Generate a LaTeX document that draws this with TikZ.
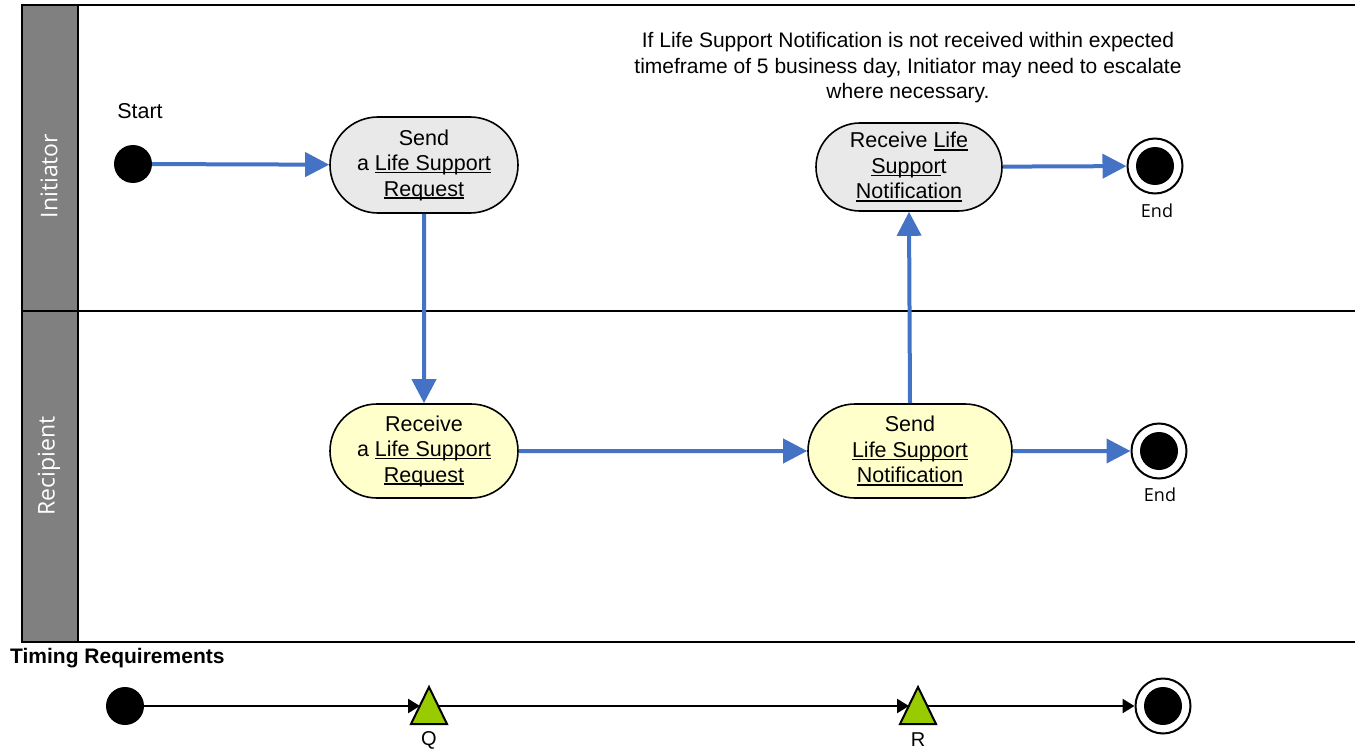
\documentclass[tikz,border=0pt]{standalone}
\usepackage{fontspec}
\setmainfont{Liberation Sans}
\newfontfamily\lanefont{Open Sans}
\usetikzlibrary{arrows.meta,shapes.misc,calc}
\definecolor{flowblue}{RGB}{68,114,196}
\definecolor{lanegray}{RGB}{128,128,128}
\definecolor{actgray}{RGB}{233,233,233}
\definecolor{actyellow}{RGB}{255,255,204}
\definecolor{mileg}{RGB}{153,204,0}
% underline set just below the baseline, crossing descenders
\newcommand\uln[1]{\leavevmode\setbox0\hbox{#1}\rlap{\rule[-2.6pt]{\wd0}{1.3pt}}\box0}
\begin{document}
\begin{tikzpicture}[x=1pt,y=-1pt,
  lanehead/.style={draw=black,line width=2pt,fill=lanegray},
  lanelabel/.style={text=white,font=\lanefont\fontsize{23}{27}\selectfont,rotate=90},
  activity/.style={draw=black,line width=1.6pt,rounded rectangle,align=center,
    inner sep=0pt,font=\fontsize{21.5}{25.5}\selectfont},
  flow/.style={draw=flowblue,line width=4pt,-{Triangle[length=24pt,width=24pt]}},
  startdot/.style={circle,fill=black,minimum size=38pt,inner sep=0pt},
  enddot/.style={circle,draw=black,line width=2pt,fill=white,minimum size=55pt,inner sep=0pt,
    path picture={\fill[black] (path picture bounding box.center) circle (19pt);}},
  endlabel/.style={font=\lanefont\fontsize{18}{21}\selectfont},
  timeline/.style={draw=black,line width=2.5pt,-{Triangle[length=12pt,width=14pt]}},
  milestone/.style={draw=black,line width=2pt,fill=mileg,line join=miter}
]
\useasboundingbox (0,0) rectangle (1355,749);

% swimlane frame
\draw[line width=2pt] (22,5) -- (1360,5);
\draw[line width=2pt] (22,311) -- (1360,311);
\draw[line width=2pt] (22,642) -- (1360,642);
\draw[lanehead] (22,5) rectangle (78,311);
\draw[lanehead] (22,311) rectangle (78,642);
\node[lanelabel] (lane1) at (49,176) {Initiator};
\node[lanelabel] (lane2) at (49,466) {Recipient};

% initiator lane
\node[startdot] (start) at (133,164) {};
\node[font=\fontsize{21.5}{25}\selectfont] (startlbl) at (140,111) {Start};
\node[activity,fill=actgray,minimum width=188pt,minimum height=96pt] (sendreq) at (424,165)
  {Send\\a \uln{Life Support}\\\uln{Request}};
\node[activity,fill=actgray,minimum width=186pt,minimum height=88pt] (recvnot) at (909,167)
  {Receive \uln{Life}\\\uln{Suppor}t\\\uln{Notification}};
\node[enddot] (end1) at (1155,166) {};
\node[endlabel] (end1lbl) at (1157,211) {End};
\node[align=center,font=\fontsize{21}{25.5}\selectfont] (note) at (908,68)
  {If Life Support Notification is not received within expected\\
   timeframe of 5 business day, Initiator may need to escalate\\
   where necessary.};

% recipient lane
\node[activity,fill=actyellow,minimum width=188pt,minimum height=94pt] (recvreq) at (424,451)
  {Receive\\a \uln{Life Support}\\\uln{Request}};
\node[activity,fill=actyellow,minimum width=204pt,minimum height=94pt] (sendnot) at (910,451)
  {Send\\\uln{Life Support}\\\uln{Notification}};
\node[enddot] (end2) at (1159,451) {};
\node[endlabel] (end2lbl) at (1160,495) {End};

% control flow
\draw[flow] (start) -- (sendreq);
\draw[flow] (sendreq) -- (recvreq);
\draw[flow] (recvreq) -- (sendnot);
\draw[flow] (sendnot.north) -- (recvnot.south);
\draw[flow] (recvnot) -- (end1);
\draw[flow] (sendnot) -- (end2);

% timing requirements
\node[font=\bfseries\fontsize{21}{24}\selectfont,anchor=west,inner sep=0pt] (timing) at (10,658) {Timing Requirements};
\node[startdot] (tstart) at (125,706) {};
\coordinate (Qc) at (429,706);
\coordinate (Rc) at (918,706);
\coordinate (Qin) at (420,706);
\coordinate (Qout) at (438,706);
\coordinate (Rin) at (909,706);
\coordinate (Rout) at (927,706);
\node[enddot] (tend) at (1163,706) {};
\draw[timeline] (tstart) -- (Qin);
\draw[timeline] (Qout) -- (Rin);
\draw[timeline] (Rout) -- (tend);
\draw[milestone] ($(Qc)+(-18,18)$) -- ($(Qc)+(0,-19)$) -- ($(Qc)+(18,18)$) -- cycle;
\draw[milestone] ($(Rc)+(-18,18)$) -- ($(Rc)+(0,-19)$) -- ($(Rc)+(18,18)$) -- cycle;
\node[font=\fontsize{20}{23}\selectfont] (qlbl) at (429,740) {Q};
\node[font=\fontsize{20}{23}\selectfont] (rlbl) at (918,740) {R};
\end{tikzpicture}
\end{document}
